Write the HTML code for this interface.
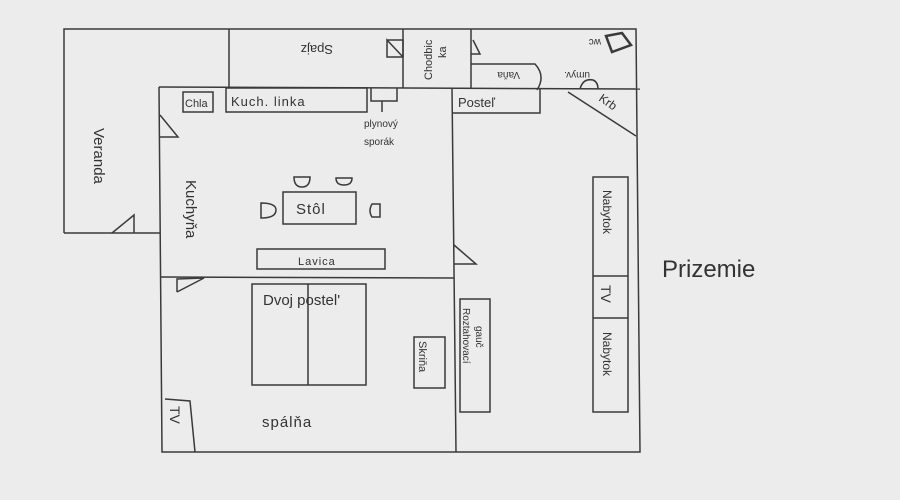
<!DOCTYPE html>
<html><head><style>
html,body{margin:0;padding:0;background:#ececec;}
svg{display:block}
text{font-family:"Liberation Sans",sans-serif;fill:#333;}
</style></head><body>
<svg width="900" height="500" viewBox="0 0 900 500" xmlns="http://www.w3.org/2000/svg">
<rect width="900" height="500" fill="#ececec"/>
<g stroke="#3a3a3a" stroke-width="1.5" fill="none">
<polyline points="64,233 64,29 636,29 640,452 162,452 159,87"/>
<line x1="64" y1="233" x2="160" y2="233"/>
<line x1="159" y1="87" x2="640" y2="89"/>
<line x1="229" y1="29" x2="229" y2="87"/>
<line x1="403" y1="29" x2="403" y2="88"/>
<line x1="471" y1="29" x2="471" y2="88"/>
<line x1="452" y1="88" x2="456" y2="452"/>
<line x1="160" y1="277" x2="454" y2="278"/>
<path d="M471,64 L535,64 Q546,76 537,90"/>
<path d="M606,36 L622,33 L631,45 L612,52 Z" stroke-width="2.5"/>
<path d="M580,89 Q583,78 593,80 Q598,82 598,89"/>
<line x1="568" y1="92" x2="636" y2="136"/>
<rect x="183" y="92" width="30" height="20"/>
<rect x="226" y="88" width="141" height="24"/>
<polyline points="371,88 371,101 397,101 397,88"/>
<line x1="382" y1="101" x2="382" y2="112"/>
<polyline points="453,113 540,113 540,89"/>
<rect x="283" y="192" width="73" height="32"/>
<path d="M261,203 L261,218 Q276,218 276,210 Q276,203 261,203 Z"/>
<path d="M372,204 Q368,211 372,217 L380,217 L380,204 Z"/>
<path d="M294,177 L310,177 Q310,187 302,187 Q294,187 294,177 Z"/>
<path d="M336,178 Q336,185 344,185 Q352,185 352,178 Z"/>
<rect x="257" y="249" width="128" height="20"/>
<rect x="252" y="284" width="114" height="101"/>
<line x1="308" y1="284" x2="308" y2="385"/>
<rect x="414" y="337" width="31" height="51"/>
<rect x="460" y="299" width="30" height="113"/>
<rect x="593" y="177" width="35" height="235"/>
<line x1="593" y1="276" x2="628" y2="276"/>
<line x1="593" y1="318" x2="628" y2="318"/>
<polyline points="165,399 190,401 195,452"/>
<polyline points="160,115 178,137 160,137"/>
<polyline points="112,233 134,215 134,233"/>
<polyline points="177,292 177,279 204,278 177,292"/>
<polyline points="454,245 476,264 454,264"/>
<polyline points="387,40 403,40 403,57 387,57 387,40 403,57"/>
<polyline points="473,40 480,54 471,54"/>
</g>
<g font-size="13">
<text x="287" y="55" transform="rotate(180 310 50)">Spajz</text>
<text transform="translate(432,80) rotate(-90)" font-size="11">Chodbic</text>
<text transform="translate(446,58) rotate(-90)" font-size="11">ka</text>
<text x="490" y="72" font-size="10" transform="rotate(180 505 72)">Vaňa</text>
<text x="570" y="72" font-size="10" transform="rotate(180 580 72)">umyv.</text>
<text x="583" y="45" font-size="10" transform="rotate(180 592 42)">wc</text>
<text transform="translate(598,100) rotate(35)" font-size="12">Krb</text>
<text x="185" y="107" font-size="11">Chla</text>
<text x="231" y="106" font-size="13" letter-spacing="1">Kuch.  linka</text>
<text x="364" y="127" font-size="10">plynový</text>
<text x="364" y="145" font-size="10">sporák</text>
<text x="458" y="107" font-size="13">Posteľ</text>
<text transform="translate(94,128) rotate(90)" font-size="15">Veranda</text>
<text transform="translate(186,180) rotate(90)" font-size="15">Kuchyňa</text>
<text x="296" y="214" font-size="15" letter-spacing="1">Stôl</text>
<text x="298" y="265" font-size="11" letter-spacing="1">Lavica</text>
<text x="263" y="305" font-size="15">Dvoj postel'</text>
<text transform="translate(419,341) rotate(90)" font-size="11">Skriňa</text>
<text transform="translate(463,308) rotate(90)" font-size="10">Roztahovací</text>
<text transform="translate(476,326) rotate(90)" font-size="10">gauč</text>
<text transform="translate(603,190) rotate(90)" font-size="12">Nabytok</text>
<text transform="translate(601,285) rotate(90)" font-size="14">TV</text>
<text transform="translate(603,332) rotate(90)" font-size="12">Nabytok</text>
<text transform="translate(170,406) rotate(90)" font-size="14">TV</text>
<text x="262" y="427" font-size="15" letter-spacing="1">spálňa</text>
<text x="662" y="277" font-size="24">Prizemie</text>
</g>
</svg>
</body></html>
